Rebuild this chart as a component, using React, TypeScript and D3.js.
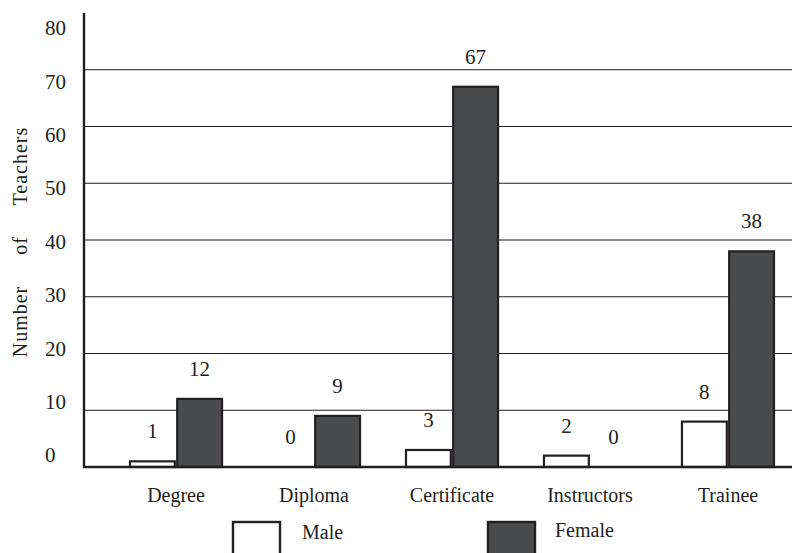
import React from 'react';
import * as d3 from 'd3';

const categories = ['Degree', 'Diploma', 'Certificate', 'Instructors', 'Trainee'];
const seriesNames = ['Male', 'Female'];
const maleValues = [1, 0, 3, 2, 8];
const femaleValues = [12, 9, 67, 0, 38];
const yTicks = [0, 10, 20, 30, 40, 50, 60, 70, 80];
const gridTicks = [10, 20, 30, 40, 50, 60, 70];

const W = 792;
const H = 553;
const INK = '#231f20';
const DARK = '#4a4b4d';
const serif = { fontFamily: "'Liberation Serif'" };

export default function App() {
  const axisX = 84;
  const baseY = 467;

  const y = d3.scaleLinear().domain([0, 80]).range([baseY, 13]);
  // tick labels sit a little inside the axis ends
  const yLabel = d3.scaleLinear().domain([0, 80]).range([455, 28]);

  const x0 = d3.scaleBand().domain(categories).range([130, 774]).paddingInner(0.333).paddingOuter(0);
  const x1 = d3.scaleBand().domain(seriesNames).range([0, x0.bandwidth()]).paddingInner(0.05);

  const rows = categories.map((c, i) => ({ cat: c, values: [maleValues[i], femaleValues[i]] }));

  return (
    <svg width={W} height={H} style={{ position: 'absolute', left: 0, top: 0, background: '#fff' }}>
      {/* gridlines */}
      {gridTicks.map(t => (
        <line key={t} x1={axisX} x2={W} y1={y(t)} y2={y(t)} stroke={INK} strokeWidth={1.2} />
      ))}

      {/* tick labels */}
      {yTicks.map(t => (
        <text key={t} x={45} y={yLabel(t)} dy="0.35em" fontSize={21} fill={INK} style={serif}>{t}</text>
      ))}

      {/* y title */}
      <text
        transform={`translate(27, 242) rotate(-90)`}
        textAnchor="middle"
        fontSize={20}
        fill={INK}
        style={{ ...serif, wordSpacing: '25px', letterSpacing: '1px' }}
      >
        Number of Teachers
      </text>

      {/* bars */}
      {rows.map(r => (
        <g key={r.cat} transform={`translate(${x0(r.cat)},0)`}>
          {r.values.map((v, j) => {
            const s = seriesNames[j];
            const bx = x1(s) as number;
            return (
              <g key={s}>
                {v > 0 && (
                  <rect
                    x={bx}
                    y={y(v)}
                    width={x1.bandwidth()}
                    height={baseY - y(v)}
                    fill={j === 0 ? '#fff' : DARK}
                    stroke={INK}
                    strokeWidth={2.2}
                  />
                )}
                <text
                  x={bx + x1.bandwidth() / 2}
                  y={y(v) - 23}
                  textAnchor="middle"
                  fontSize={21}
                  fill={INK}
                  style={serif}
                >
                  {v}
                </text>
              </g>
            );
          })}
          <text
            x={x0.bandwidth() / 2}
            y={502}
            textAnchor="middle"
            fontSize={20}
            fill={INK}
            style={serif}
          >
            {r.cat}
          </text>
        </g>
      ))}

      {/* axes */}
      <line x1={axisX} x2={axisX} y1={13} y2={baseY + 1} stroke={INK} strokeWidth={2.4} />
      <line x1={axisX - 1} x2={W} y1={baseY} y2={baseY} stroke={INK} strokeWidth={2.4} />

      {/* legend */}
      <rect x={233} y={522} width={47} height={40} fill="#fff" stroke={INK} strokeWidth={2.4} />
      <text x={302} y={539} fontSize={20} fill={INK} style={serif}>Male</text>
      <rect x={488} y={522} width={47} height={40} fill={DARK} stroke={INK} strokeWidth={2.4} />
      <text x={555} y={537} fontSize={20} fill={INK} style={serif}>Female</text>
    </svg>
  );
}
